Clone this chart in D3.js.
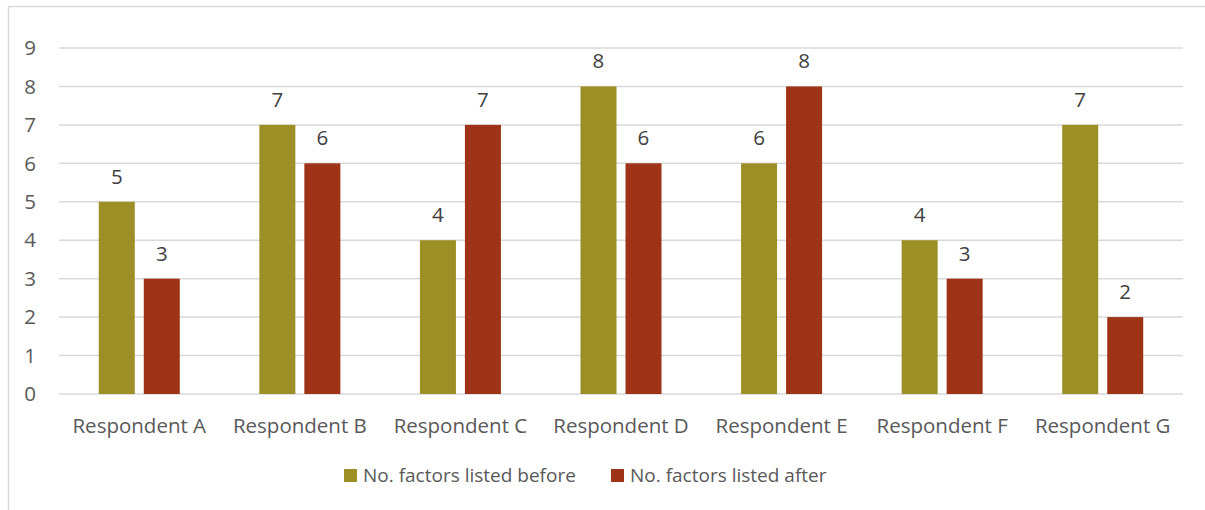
<!DOCTYPE html>
<html>
<head>
<meta charset="utf-8">
<script src="https://cdn.jsdelivr.net/npm/d3@7"></script>
<style>
  body { margin: 0; background: #fff; }
  text { font-family: "Open Sans", "Noto Sans", sans-serif; fill: #595959; }
</style>
</head>
<body>
<div id="chart"></div>
<script>
var respondents = ["Respondent A", "Respondent B", "Respondent C", "Respondent D", "Respondent E", "Respondent F", "Respondent G"];
var seriesNames = ["No. factors listed before", "No. factors listed after"];
var before = [5, 7, 4, 8, 6, 4, 7];
var after = [3, 6, 7, 6, 8, 3, 2];
var yTicks = [0, 1, 2, 3, 4, 5, 6, 7, 8, 9];
var colors = ["#9c8f25", "#9e3317"];

var width = 1205, height = 510;
var plotLeft = 59, plotRight = 1183, plotTop = 48, plotBottom = 394;
var fontSize = "20.5px";

var svg = d3.select("#chart").append("svg")
  .attr("width", width)
  .attr("height", height);

// outer chart border
svg.append("rect")
  .attr("x", 8.5).attr("y", 6.5)
  .attr("width", 1210).attr("height", 520)
  .attr("fill", "none")
  .attr("stroke", "#d9d9d9")
  .attr("stroke-width", 1.5);

var x = d3.scaleBand().domain(respondents).range([plotLeft, plotRight]).paddingInner(0.4955).paddingOuter(0.2477);
var inner = d3.scaleBand().domain([0, 1]).range([0, x.bandwidth()]).paddingInner(0.2);
var y = d3.scaleLinear().domain([0, 9]).range([plotBottom, plotTop]);

// gridlines
svg.append("g").selectAll("line")
  .data(yTicks)
  .enter().append("line")
  .attr("x1", plotLeft).attr("x2", plotRight)
  .attr("y1", function(d) { return y(d); })
  .attr("y2", function(d) { return y(d); })
  .attr("stroke", "#d9d9d9")
  .attr("stroke-width", 1.5);

// y labels
svg.append("g").selectAll("text")
  .data(yTicks)
  .enter().append("text")
  .attr("x", 30)
  .attr("y", function(d) { return y(d); })
  .attr("dy", "0.35em")
  .attr("text-anchor", "middle")
  .style("font-size", fontSize)
  .text(function(d) { return d; });

var rows = respondents.map(function(r, i) { return { name: r, values: [before[i], after[i]] }; });

var groups = svg.append("g").selectAll("g")
  .data(rows)
  .enter().append("g")
  .attr("transform", function(d) { return "translate(" + x(d.name) + ",0)"; });

groups.selectAll("rect")
  .data(function(d) { return d.values; })
  .enter().append("rect")
  .attr("x", function(d, i) { return inner(i); })
  .attr("width", inner.bandwidth())
  .attr("y", function(d) { return y(d); })
  .attr("height", function(d) { return y(0) - y(d); })
  .attr("fill", function(d, i) { return colors[i]; });

groups.selectAll(".val")
  .data(function(d) { return d.values; })
  .enter().append("text")
  .attr("class", "val")
  .attr("x", function(d, i) { return inner(i) + inner.bandwidth() / 2; })
  .attr("y", function(d) { return y(d) - 18; })
  .attr("text-anchor", "middle")
  .style("font-size", fontSize)
  .style("fill", "#404040")
  .text(function(d) { return d; });

// x labels
svg.append("g").selectAll("text")
  .data(respondents)
  .enter().append("text")
  .attr("x", function(d) { return x(d) + x.bandwidth() / 2; })
  .attr("y", 426)
  .attr("dy", "0.35em")
  .attr("text-anchor", "middle")
  .style("font-size", fontSize)
  .text(function(d) { return d; });

// legend
var legendX = [344, 611];
var legend = svg.append("g").selectAll("g")
  .data(seriesNames)
  .enter().append("g")
  .attr("transform", function(d, i) { return "translate(" + legendX[i] + ",469)"; });
legend.append("rect")
  .attr("width", 13).attr("height", 13)
  .attr("fill", function(d, i) { return colors[i]; });
legend.append("text")
  .attr("x", 19).attr("y", 6.5)
  .attr("dy", "0.35em")
  .style("font-size", "19px")
  .text(function(d) { return d; });
</script>
</body>
</html>
